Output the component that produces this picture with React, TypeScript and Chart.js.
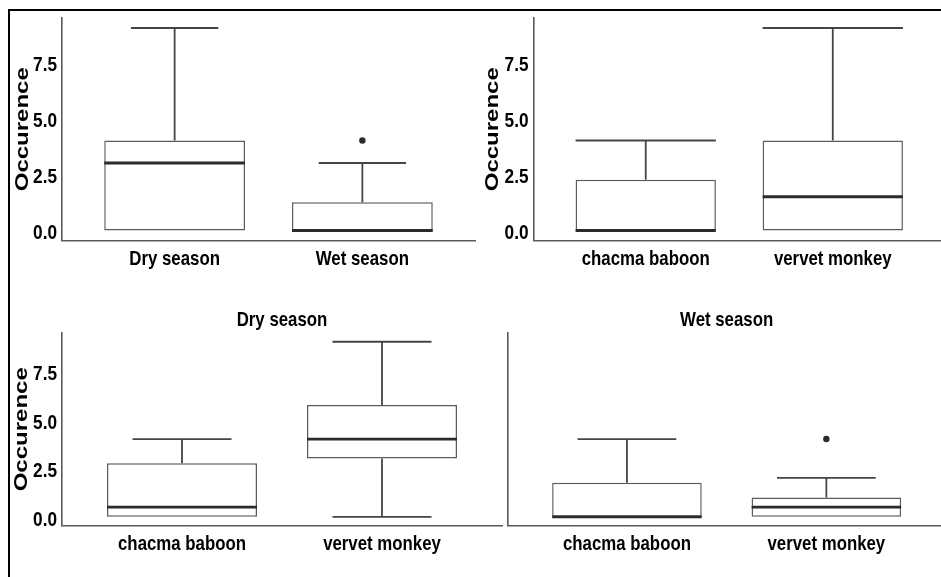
import React, { useEffect, useRef } from "react";
import { Chart, registerables } from "chart.js";

Chart.register(...registerables);

// Category labels
const SEASONS = ["Dry season", "Wet season"];
const SPECIES = ["chacma baboon", "vervet monkey"];

// Shared value axis
const Y_TICKS = [0, 2.5, 5, 7.5];
const Y_MIN = -0.45;
const Y_MAX = 9.45;
const Y_TITLE = "Occurence";

// Occurrence by season (box-plot summaries)
const seasonLow = [0, 0];
const seasonQ1 = [0, 0];
const seasonMedian = [3, 0];
const seasonQ3 = [4, 1.25];
const seasonHigh = [9, 3];
const seasonOutliers = [[], [4]];

// Occurrence by species
const speciesLow = [0, 0];
const speciesQ1 = [0, 0];
const speciesMedian = [0, 1.5];
const speciesQ3 = [2.25, 4];
const speciesHigh = [4, 9];
const speciesOutliers = [[], []];

// Dry season, by species
const dryLow = [0, 0];
const dryQ1 = [0, 3];
const dryMedian = [0.5, 4];
const dryQ3 = [2.75, 5.75];
const dryHigh = [4, 9];
const dryOutliers = [[], []];

// Wet season, by species
const wetLow = [0, 0];
const wetQ1 = [0, 0];
const wetMedian = [0, 0.5];
const wetQ3 = [1.75, 1];
const wetHigh = [4, 2];
const wetOutliers = [[], [4]];

type BoxSet = {
  labels: string[];
  low: number[];
  q1: number[];
  median: number[];
  q3: number[];
  high: number[];
  outliers: number[][];
};

type Frame = {
  left: number;
  top: number;
  width: number;
  height: number;
  padding: { left: number; right: number; top: number; bottom: number };
  yAxisWidth: number;
  xAxisHeight: number;
  capRatio: number;
  showY: boolean;
  yTitleX: number;
  title?: string;
};

const FONT = '"Liberation Sans", Arial, Helvetica, sans-serif';
const CONDENSE = 0.82;
const TITLE_CONDENSE = 0.76;
const AXIS_COLOR = "#5a5a5a";
const BOX_COLOR = "#5c5c5c";
const WHISKER_COLOR = "#454545";
const MEDIAN_COLOR = "#2b2b2b";

// Draws a condensed bold string (the figure uses a narrow grotesque face)
function condensedText(
  ctx: CanvasRenderingContext2D,
  text: string,
  x: number,
  y: number,
  size: number,
  align: CanvasTextAlign,
  squeeze: number,
  rotate = false
) {
  ctx.save();
  ctx.translate(x, y);
  ctx.scale(squeeze, 1);
  if (rotate) ctx.rotate(-Math.PI / 2);
  ctx.font = `bold ${size}px ${FONT}`;
  ctx.textAlign = align;
  ctx.textBaseline = rotate ? "middle" : "alphabetic";
  ctx.fillStyle = "#000000";
  ctx.fillText(text, 0, 0);
  ctx.restore();
}

function BoxPanel({ set, frame }: { set: BoxSet; frame: Frame }) {
  const ref = useRef<HTMLCanvasElement | null>(null);

  useEffect(() => {
    const canvas = ref.current;
    if (!canvas) return;

    const boxData = set.labels.map((_, i) => ({ x: i + 1, y: [set.q1[i], set.q3[i]] }));
    const outlierData = set.outliers.flatMap((vals, i) => vals.map((v) => ({ x: i + 1, y: v })));

    const whiskers = {
      id: "whiskers",
      afterDatasetsDraw(chart: any) {
        const { ctx, scales } = chart;
        const xs = scales.x;
        const ys = scales.y;
        const bars = chart.getDatasetMeta(0).data;
        ctx.save();
        ctx.lineCap = "butt";
        set.labels.forEach((_, i) => {
          const cx = xs.getPixelForValue(i + 1);
          const half = (bars[i] as any).width / 2;
          const capHalf = half * frame.capRatio;
          const yLow = ys.getPixelForValue(set.low[i]);
          const yQ1 = ys.getPixelForValue(set.q1[i]);
          const yQ3 = ys.getPixelForValue(set.q3[i]);
          const yHigh = ys.getPixelForValue(set.high[i]);
          const yMed = ys.getPixelForValue(set.median[i]);

          ctx.strokeStyle = WHISKER_COLOR;
          ctx.lineWidth = 1.8;
          ctx.beginPath();
          ctx.moveTo(cx, yQ3);
          ctx.lineTo(cx, yHigh);
          ctx.moveTo(cx, yQ1);
          ctx.lineTo(cx, yLow);
          ctx.moveTo(cx - capHalf, yHigh);
          ctx.lineTo(cx + capHalf, yHigh);
          if (set.low[i] < set.q1[i]) {
            ctx.moveTo(cx - capHalf, yLow);
            ctx.lineTo(cx + capHalf, yLow);
          }
          ctx.stroke();

          ctx.strokeStyle = MEDIAN_COLOR;
          ctx.lineWidth = 2.8;
          ctx.beginPath();
          ctx.moveTo(cx - half, yMed);
          ctx.lineTo(cx + half, yMed);
          ctx.stroke();
        });
        ctx.restore();
      },
    };

    const labels = {
      id: "condensedLabels",
      afterDraw(chart: any) {
        const { ctx, scales, chartArea } = chart;
        const xs = scales.x;
        const ys = scales.y;
        xs.ticks.forEach((t: any) => {
          const text = set.labels[Math.round(t.value) - 1] ?? "";
          condensedText(ctx, text, xs.getPixelForValue(t.value), chartArea.bottom + 24.4, 20.5, "center", CONDENSE);
        });
        if (frame.showY) {
          ys.ticks.forEach((t: any) => {
            condensedText(ctx, Number(t.value).toFixed(1), chartArea.left - 5, ys.getPixelForValue(t.value) + 9, 21, "right", CONDENSE);
          });
          condensedText(ctx, Y_TITLE, frame.yTitleX, (chartArea.top + chartArea.bottom) / 2, 24, "center", TITLE_CONDENSE, true);
        }
        if (frame.title) {
          condensedText(ctx, frame.title, (chartArea.left + chartArea.right) / 2, chartArea.top - 7, 20.5, "center", CONDENSE);
        }
      },
    };

    const chart = new Chart(canvas, {
      type: "bar",
      data: {
        datasets: [
          {
            type: "bar",
            data: boxData as any,
            backgroundColor: "#ffffff",
            borderColor: BOX_COLOR,
            borderWidth: 1.5,
            borderSkipped: false,
            barPercentage: 0.75,
            categoryPercentage: 1,
            order: 2,
          } as any,
          {
            type: "line",
            data: outlierData as any,
            showLine: false,
            pointRadius: 3.2,
            pointBackgroundColor: "#2b2b2b",
            pointBorderColor: "#2b2b2b",
            pointBorderWidth: 0,
            order: 1,
          } as any,
        ],
      },
      options: {
        responsive: false,
        animation: false,
        devicePixelRatio: 1,
        layout: { padding: frame.padding },
        plugins: {
          legend: { display: false },
          tooltip: { enabled: false },
          title: { display: false },
        },
        scales: {
          x: {
            type: "linear",
            min: 0.4,
            max: 2.6,
            offset: false,
            grid: { display: false, drawTicks: false },
            border: { display: true, color: AXIS_COLOR, width: 1.6 },
            afterBuildTicks: (s: any) => {
              s.ticks = set.labels.map((_, i) => ({ value: i + 1 }));
            },
            afterFit: (s: any) => {
              s.height = frame.xAxisHeight;
            },
            ticks: { display: false, autoSkip: false },
          },
          y: {
            type: "linear",
            min: Y_MIN,
            max: Y_MAX,
            grid: { display: false, drawTicks: false },
            border: { display: true, color: AXIS_COLOR, width: 1.6 },
            afterBuildTicks: (s: any) => {
              s.ticks = Y_TICKS.map((v) => ({ value: v }));
            },
            afterFit: (s: any) => {
              s.width = frame.yAxisWidth;
            },
            ticks: { display: false },
            title: { display: false },
          },
        },
      } as any,
      plugins: [whiskers, labels],
    });

    return () => chart.destroy();
  }, [set, frame]);

  return (
    <canvas
      ref={ref}
      width={frame.width}
      height={frame.height}
      style={{ position: "absolute", left: frame.left, top: frame.top }}
    />
  );
}

const seasonSet: BoxSet = {
  labels: SEASONS,
  low: seasonLow,
  q1: seasonQ1,
  median: seasonMedian,
  q3: seasonQ3,
  high: seasonHigh,
  outliers: seasonOutliers,
};
const speciesSet: BoxSet = {
  labels: SPECIES,
  low: speciesLow,
  q1: speciesQ1,
  median: speciesMedian,
  q3: speciesQ3,
  high: speciesHigh,
  outliers: speciesOutliers,
};
const drySet: BoxSet = {
  labels: SPECIES,
  low: dryLow,
  q1: dryQ1,
  median: dryMedian,
  q3: dryQ3,
  high: dryHigh,
  outliers: dryOutliers,
};
const wetSet: BoxSet = {
  labels: SPECIES,
  low: wetLow,
  q1: wetQ1,
  median: wetMedian,
  q3: wetQ3,
  high: wetHigh,
  outliers: wetOutliers,
};

const topLeft: Frame = {
  left: 0, top: 0, width: 480, height: 290,
  padding: { left: 8, right: 5, top: 17.9, bottom: 9.4 },
  yAxisWidth: 54, xAxisHeight: 40, capRatio: 0.62, showY: true, yTitleX: 22.5,
};
const topRight: Frame = {
  left: 470, top: 0, width: 480, height: 290,
  padding: { left: 9.5, right: 5, top: 17.9, bottom: 9.4 },
  yAxisWidth: 54, xAxisHeight: 40, capRatio: 1, showY: true, yTitleX: 23.3,
};
const bottomLeft: Frame = {
  left: 0, top: 290, width: 510, height: 287,
  padding: { left: 8, right: 8, top: 43, bottom: 11.4 },
  yAxisWidth: 54, xAxisHeight: 40, capRatio: 0.66, showY: true, yTitleX: 22.2,
  title: "Dry season",
};
const bottomRight: Frame = {
  left: 470, top: 290, width: 480, height: 287,
  padding: { left: 8, right: 3, top: 43, bottom: 11.4 },
  yAxisWidth: 29.3, xAxisHeight: 40, capRatio: 0.66, showY: false, yTitleX: 0,
  title: "Wet season",
};

export default function App() {
  return (
    <div
      style={{
        position: "absolute",
        left: 0,
        top: 0,
        width: 941,
        height: 577,
        overflow: "hidden",
        background: "#ffffff",
      }}
    >
      <div
        style={{
          position: "absolute",
          left: 8,
          top: 9,
          width: 960,
          height: 600,
          borderTop: "2px solid #000",
          borderLeft: "2px solid #000",
          boxSizing: "border-box",
        }}
      />
      <BoxPanel set={seasonSet} frame={topLeft} />
      <BoxPanel set={speciesSet} frame={topRight} />
      <BoxPanel set={drySet} frame={bottomLeft} />
      <BoxPanel set={wetSet} frame={bottomRight} />
    </div>
  );
}
